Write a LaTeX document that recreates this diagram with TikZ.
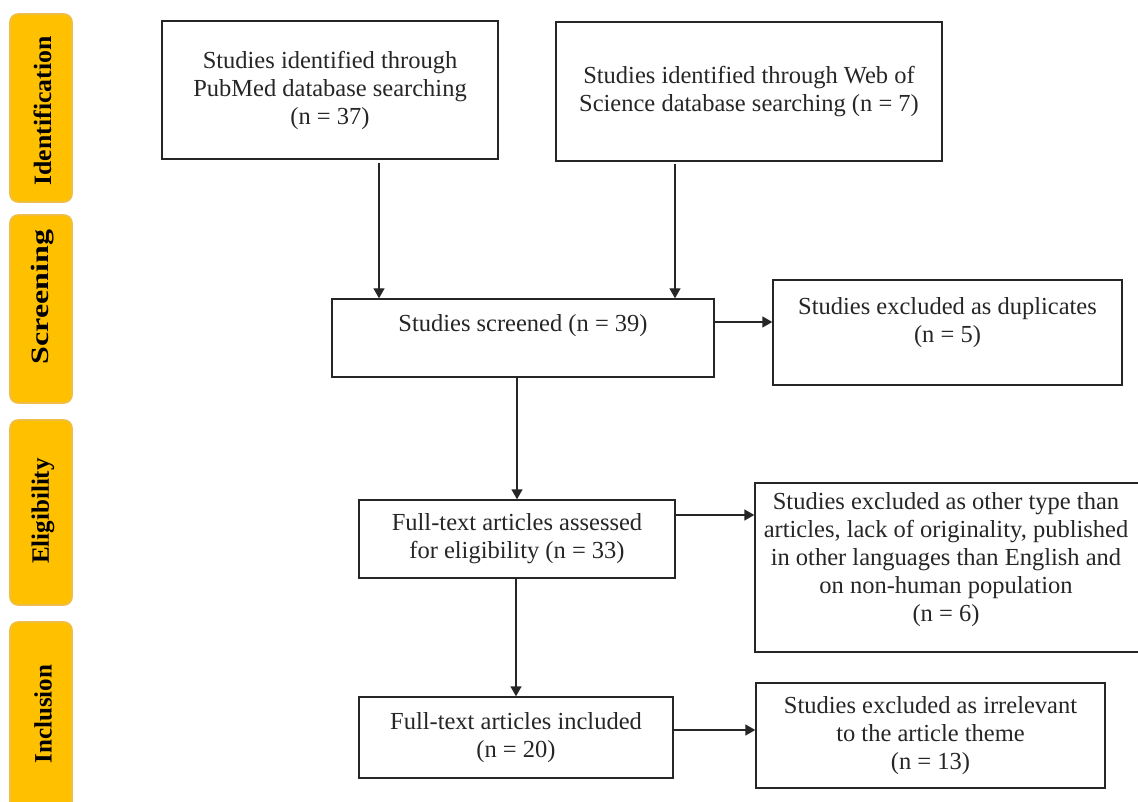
\documentclass[tikz,border=0pt]{standalone}
\usepackage{fontspec}
\setmainfont{Liberation Serif}
\usetikzlibrary{arrows.meta,calc}
\definecolor{barfill}{HTML}{FFC000}
\definecolor{barline}{HTML}{EEBE48}
\definecolor{ink}{HTML}{262626}
\tikzset{
  stagebar/.style={draw=barline, line width=1.6pt, fill=barfill, rounded corners=8pt},
  stagetext/.style={rotate=90, font=\fontsize{25}{28}\selectfont\bfseries, text=black},
  flowbox/.style={draw=ink, line width=1.4pt, rectangle, inner sep=0pt},
  flowtext/.style={align=center, text=ink, font=\fontsize{24.5}{28}\selectfont},
  flowarrow/.style={draw=ink, line width=1.4pt, -{Triangle[length=10pt,width=11pt]}}
}
\begin{document}
\begin{tikzpicture}[x=1pt,y=-1pt]
\useasboundingbox (0,0) rectangle (1138,802);
% stage bars
\draw[stagebar] (10,14) rectangle (72,202);
\draw[stagebar] (10,215) rectangle (72,403);
\draw[stagebar] (10,420) rectangle (72,605);
\draw[stagebar] (10,622) rectangle (72,830);
\node[stagetext] (lid) at (43,111) {\scalebox{1.03}[1]{Identification}};
\node[stagetext] (lsc) at (43,297) {\scalebox{1.28}[1]{Screening}};
\node[stagetext] (lel) at (43,511) {Eligibility};
\node[stagetext] (lin) at (43,714) {Inclusion};
% boxes
\node[flowbox, minimum width=336pt, minimum height=138pt] (pub) at (330,90) {};
\node[flowtext] (pubt) at (pub.center) {Studies identified through\\PubMed database searching\\(n = 37)};
\node[flowbox, minimum width=386pt, minimum height=139pt] (wos) at (749,91.5) {};
\node[flowtext] (wost) at (wos.center) {Studies identified through Web of\\Science database searching (n = 7)};
\node[flowbox, minimum width=382pt, minimum height=78pt] (scr) at (523,338) {};
\node[flowtext, yshift=12pt] (scrt) at (scr.center) {Studies screened (n = 39)};
\node[flowbox, minimum width=349pt, minimum height=105pt] (dup) at (947.5,332.5) {};
\node[flowtext, yshift=10pt] (dupt) at (dup.center) {Studies excluded as duplicates\\(n = 5)};
\node[flowbox, minimum width=316pt, minimum height=78pt] (ass) at (517,539) {};
\node[flowtext] (asst) at (ass.center) {Full-text articles assessed\\for eligibility (n = 33)};
\node[flowbox, minimum width=390pt, minimum height=169pt] (exc) at (950,567.5) {};
\node[flowtext, xshift=-4pt, yshift=8pt] (exct) at (exc.center) {Studies excluded as other type than\\articles, lack of originality, published\\in other languages than English and\\on non-human population\\(n = 6)};
\node[flowbox, minimum width=314pt, minimum height=81pt] (inc) at (516,737.5) {};
\node[flowtext] (inct) at (inc.center) {Full-text articles included\\(n = 20)};
\node[flowbox, minimum width=349pt, minimum height=105pt] (irr) at (930.5,735.5) {};
\node[flowtext] (irrt) at (irr.center) {Studies excluded as irrelevant\\to the article theme\\(n = 13)};
% connectors
\draw[flowarrow] ([xshift=49pt,yshift=-3pt]pub.south) -- ([xshift=49pt]pub.south |- scr.north);
\draw[flowarrow] ([xshift=-74pt,yshift=-2pt]wos.south) -- ([xshift=-74pt]wos.south |- scr.north);
\draw[flowarrow] ([yshift=16pt]scr.east) -- ([yshift=16pt]scr.east -| dup.west);
\draw[flowarrow] (scr.south -| ass.north) -- (ass.north);
\draw[flowarrow] ([yshift=24pt]ass.east) -- ([yshift=24pt]ass.east -| exc.west);
\draw[flowarrow] (inc.north |- ass.south) -- (inc.north);
\draw[flowarrow] ([yshift=7.5pt]inc.east) -- ([yshift=7.5pt]inc.east -| irr.west);
\end{tikzpicture}
\end{document}
